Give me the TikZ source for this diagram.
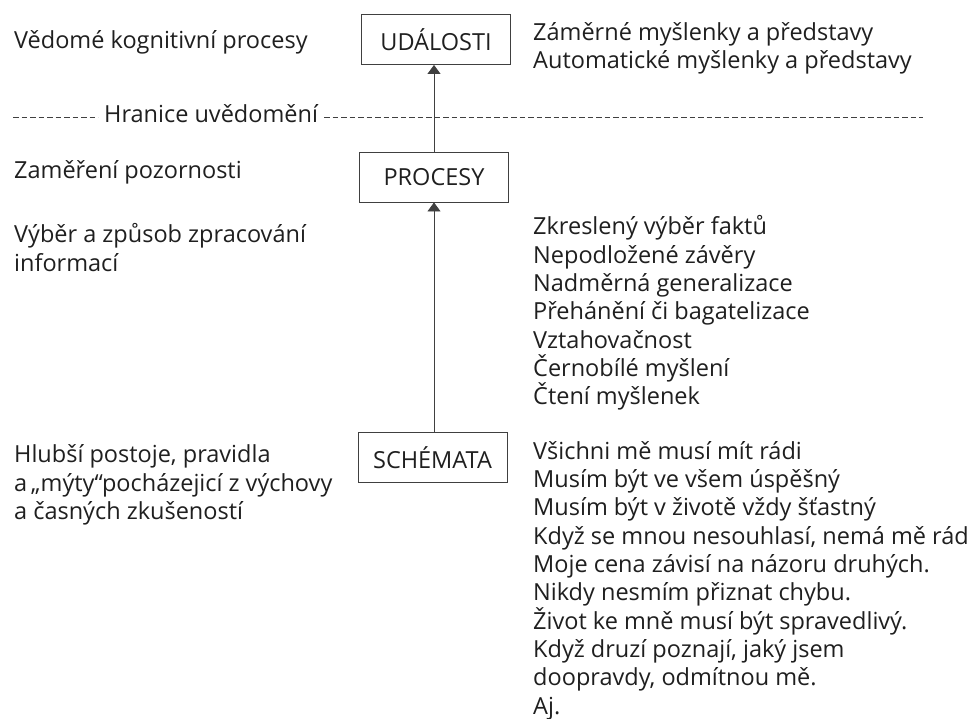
\documentclass[tikz,border=0pt]{standalone}
\usepackage{fontspec}
\setmainfont{Open Sans}
\usetikzlibrary{positioning,arrows.meta}

\begin{document}
\begin{tikzpicture}[x=1pt,y=-1pt,>={Triangle[length=9pt,width=13pt]},
  every node/.style={inner sep=0pt,text=black!88,font=\fontsize{23.5}{28.3}\selectfont},
  level/.style={shape=rectangle,draw=black!75,line width=0.9pt,minimum width=149pt,minimum height=50pt},
  note/.style={anchor=west,align=left},]
\useasboundingbox (0,0) rectangle (973,718);

\node[level] (udal) at (436,39.5) {UDÁLOSTI};
\node[level] (proc) at (434,177) {PROCESY};
\node[level] (schem) at (432.5,457.5) {SCHÉMATA};

\node[note] (vedome) at (14,42) {Vědomé kognitivní procesy};
\node[note] (zamer) at (14,172) {Zaměření pozornosti};
\node[note] (vyber) at (14,247.5) {Výběr a způsob zpracování\\informací};
\node[note] (hlubsi) at (14,485) {Hlubší postoje, pravidla\\a\,„mýty“pocházejicí z výchovy\\a časných zkušeností};

\node[note] (myslenky) at (533,48) {Záměrné myšlenky a představy\\Automatické myšlenky a představy};
\node[note] (zkresleni) at (533,313) {Zkreslený výběr faktů\\Nepodložené závěry\\Nadměrná generalizace\\Přehánění či bagatelizace\\Vztahovačnost\\Černobílé myšlení\\Čtení myšlenek};
\node[note] (postoje) at (533,580.5) {Všichni mě musí mít rádi\\Musím být ve všem úspěšný\\Musím být v životě vždy šťastný\\Když se mnou nesouhlasí, nemá mě rád\\Moje cena závisí na názoru druhých.\\Nikdy nesmím přiznat chybu.\\Život ke mně musí být spravedlivý.\\Když druzí poznají, jaký jsem\\doopravdy, odmítnou mě.\\Aj.};

% hranice
\node[note,inner xsep=6pt] (hranice) at (98,114) {Hranice uvědomění};
\coordinate (hl) at (13,117);
\coordinate (hr) at (923,117);
\draw[black!75,line width=0.8pt,dash pattern=on 5.5pt off 3pt] (hl) -- (hl -| hranice.west);
\draw[black!75,line width=0.8pt,dash pattern=on 5.5pt off 3pt] (hranice.east |- hr) -- (hr);

\draw[->,black!75,line width=0.9pt] (proc.north -| 434,0) -- (udal.south -| 434,0);
\draw[->,black!75,line width=0.9pt] (schem.north -| 434,0) -- (proc.south -| 434,0);
\end{tikzpicture}
\end{document}
